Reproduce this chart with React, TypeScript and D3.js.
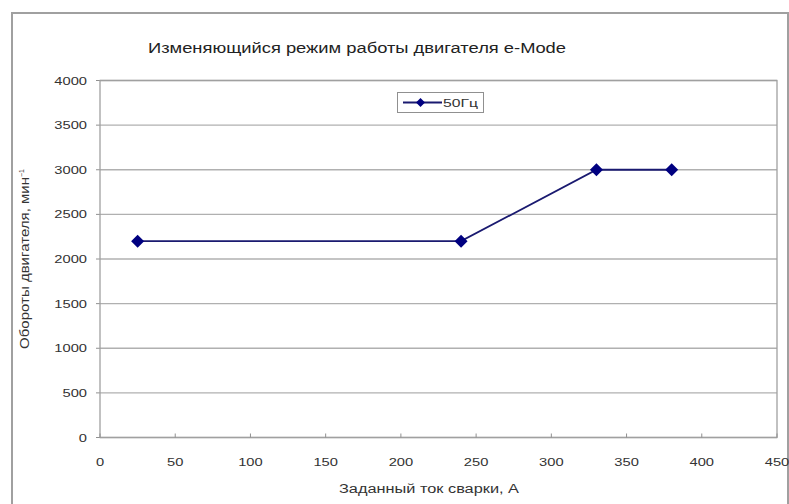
import React from "react";
import * as d3 from "d3";

const title = "Изменяющийся режим работы двигателя e-Mode";
const xLabel = "Заданный ток сварки, А";
const yLabel = "Обороты двигателя, мин";
const seriesName = "50Гц";
const currents = [25, 240, 330, 380];
const speeds = [2200, 2200, 3000, 3000];
const xTicks = [0, 50, 100, 150, 200, 250, 300, 350, 400, 450];
const yTicks = [0, 500, 1000, 1500, 2000, 2500, 3000, 3500, 4000];

export default function App() {
  const W = 789, H = 504;
  const L = 100, R = 777, T = 80.5, B = 437.5;
  const x = d3.scaleLinear().domain([0, 450]).range([L, R]);
  const y = d3.scaleLinear().domain([0, 4000]).range([B, T]);
  const pts = currents.map((c, i) => [c, speeds[i]] as [number, number]);
  const line = d3.line<[number, number]>().x(d => x(d[0])).y(d => y(d[1]));
  const diamond = (cx: number, cy: number, r: number) =>
    `M${cx},${cy - r}L${cx + r},${cy}L${cx},${cy + r}L${cx - r},${cy}Z`;
  const font = "'Liberation Sans', Arial, sans-serif";
  const sx = 1.28;
  return (
    <svg width={W} height={H} style={{ position: "absolute", left: 0, top: 0, background: "#fff" }} fontFamily={font}>
      <rect x={0} y={0} width={W} height={H} fill="#fff" />
      <rect x={12} y={13} width={776} height={520} fill="none" stroke="#a0a0a0" strokeWidth={2} />
      <text x={357} y={53} textAnchor="middle" fontSize={14} fill="#222" textLength={418} lengthAdjust="spacingAndGlyphs">{title}</text>
      {yTicks.map(t => (
        <g key={"y" + t}>
          <line x1={L} x2={R} y1={y(t)} y2={y(t)} stroke="#b0b0b0" strokeWidth={1.3} />
          <line x1={L - 4} x2={L} y1={y(t)} y2={y(t)} stroke="#909090" />
          <text transform={`translate(${L - 13},${y(t) + 4}) scale(${sx},1)`} textAnchor="end" fontSize={11.5} fill="#333">{t}</text>
        </g>
      ))}
      <rect x={L} y={T} width={R - L} height={B - T} fill="none" stroke="#a0a0a0" strokeWidth={1.3} />
      {xTicks.map(t => (
        <g key={"x" + t}>
          <line x1={x(t)} x2={x(t)} y1={B} y2={B - 4} stroke="#909090" />
          <text transform={`translate(${x(t)},${B + 28}) scale(${sx},1)`} textAnchor="middle" fontSize={11.5} fill="#333">{t}</text>
        </g>
      ))}
      <text x={429} y={493} textAnchor="middle" fontSize={12} fill="#333" textLength={180} lengthAdjust="spacingAndGlyphs">{xLabel}</text>
      <text transform={`translate(29,${(T + B) / 2}) rotate(-90)`} textAnchor="middle" fontSize={12} fill="#333">
        <tspan textLength={172} lengthAdjust="spacingAndGlyphs">{yLabel}</tspan>
        <tspan dy={-5} fontSize={7}>−1</tspan>
      </text>
      <path d={line(pts) || ""} fill="none" stroke="#1a1a70" strokeWidth={1.8} />
      {pts.map((p, i) => (
        <path key={i} d={diamond(x(p[0]), y(p[1]), 6.5)} fill="#000080" />
      ))}
      <g>
        <rect x={397.5} y={92.5} width={86} height={20} fill="#fff" stroke="#909090" />
        <line x1={403} x2={442} y1={102.5} y2={102.5} stroke="#1a1a70" strokeWidth={1.8} />
        <path d={diamond(420.5, 102.5, 4.5)} fill="#000080" />
        <text x={443} y={106.5} fontSize={11} fill="#333" textLength={35} lengthAdjust="spacingAndGlyphs">{seriesName}</text>
      </g>
    </svg>
  );
}
